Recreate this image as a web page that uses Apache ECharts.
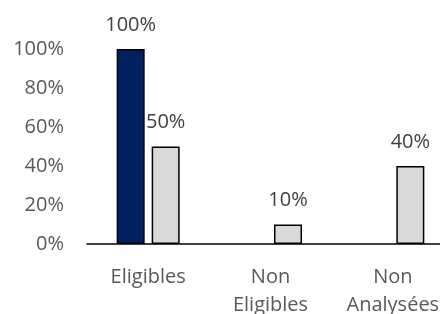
<!DOCTYPE html>
<html>
<head>
    <title></title>
    <script src="https://cdn.jsdelivr.net/npm/echarts@6/dist/echarts.min.js"></script>
    <style>
        html, body { margin: 0; padding: 0; background: #fff; }
    </style>
</head>
<body>
<div id="main" style="width: 440px;height:314px;"></div>
<script type="text/javascript">
var categories = ['Eligibles', 'Non\nEligibles', 'Non\nAnalysées'];
var navyValues = [1.0, 0, 0];
var grayValues = [0.5, 0.1, 0.4];
var yTicks = [0, 0.2, 0.4, 0.6, 0.8, 1.0];

var FONT = 'Open Sans';

function pct(v) {
    return Math.round(v * 100) + '%';
}
// empty bars are not drawn at all (no border line on the axis)
function bars(values) {
    return values.map(function (v) { return v ? v : '-'; });
}

var myChart = echarts.init(document.getElementById('main'));

myChart.setOption({
    animation: false,
    grid: { left: 87, right: -14, top: 49, bottom: 70, outerBoundsMode: 'none', containLabel: false },
    xAxis: {
        type: 'category',
        data: categories,
        axisLine: { lineStyle: { color: '#000', width: 1.5 } },
        axisTick: { show: false },
        axisLabel: {
            interval: 0,
            hideOverlap: false,
            color: '#595959',
            fontFamily: FONT,
            fontSize: 20,
            lineHeight: 28,
            margin: 19
        }
    },
    yAxis: {
        type: 'value',
        min: yTicks[0],
        max: yTicks[yTicks.length - 1],
        interval: 0.2,
        splitLine: { show: false },
        axisLine: { show: false },
        axisTick: { show: false },
        axisLabel: {
            color: '#595959',
            fontFamily: FONT,
            fontSize: 20,
            margin: 23,
            formatter: pct
        }
    },
    series: [
        {
            type: 'bar',
            data: bars(navyValues),
            barWidth: 28,
            barGap: '25%',
            itemStyle: { color: '#002060', borderColor: '#000', borderWidth: 1.5 },
            label: {
                show: true, position: 'top', distance: 14,
                color: '#404040', fontFamily: FONT, fontSize: 20,
                formatter: function (p) { return pct(p.value); }
            }
        },
        {
            type: 'bar',
            data: bars(grayValues),
            barWidth: 28,
            itemStyle: { color: '#D9D9D9', borderColor: '#000', borderWidth: 1.5 },
            label: {
                show: true, position: 'top', distance: 14,
                color: '#404040', fontFamily: FONT, fontSize: 20,
                formatter: function (p) { return pct(p.value); }
            }
        }
    ]
});
</script>
</body>
</html>
